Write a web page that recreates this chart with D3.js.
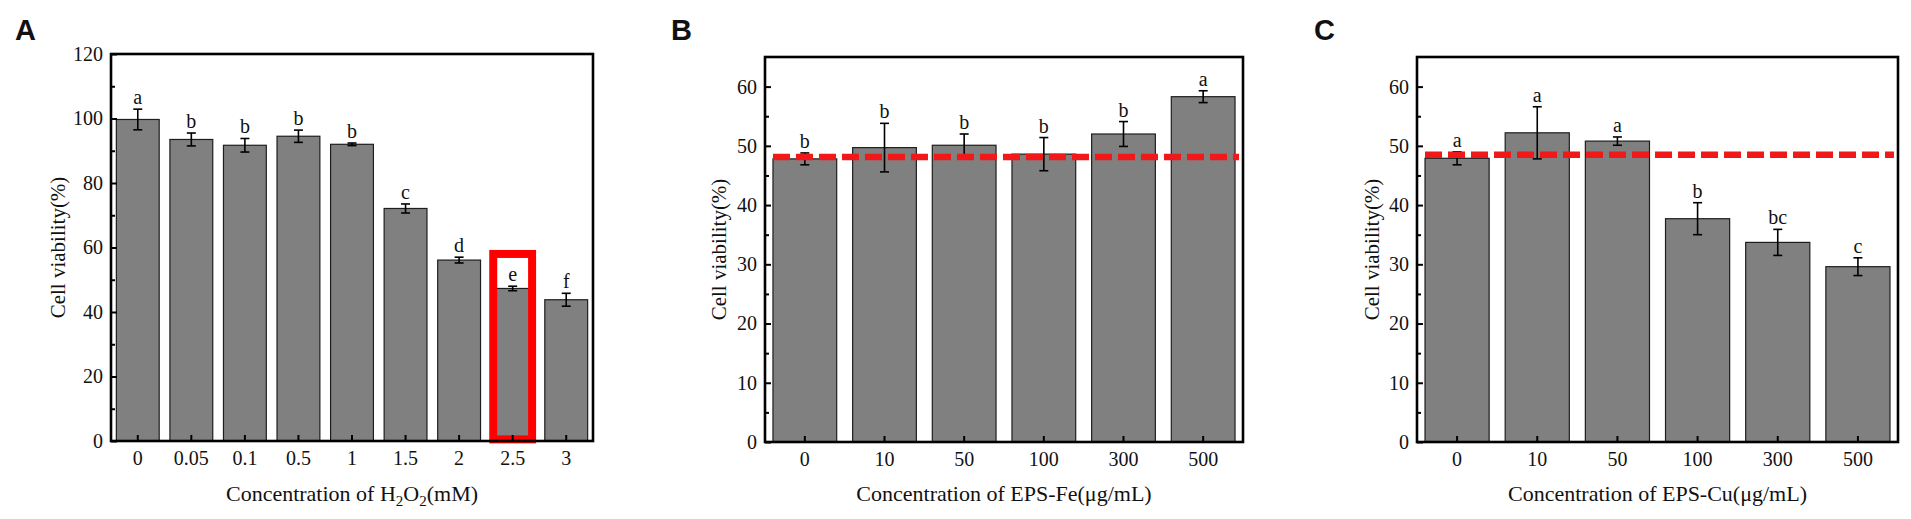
<!DOCTYPE html>
<html>
<head>
<meta charset="utf-8">
<script src="https://cdn.jsdelivr.net/npm/d3@7"></script>
<style>
  body { margin: 0; background: #fff; }
  text { font-family: "Liberation Serif", "Times New Roman", serif; fill: #111; }
  .panel-label { font-family: "Liberation Sans", Arial, sans-serif; font-weight: bold; }
</style>
</head>
<body>
<svg id="fig" width="1911" height="519"></svg>
<script>
// panel A - H2O2
var catsA = ["0", "0.05", "0.1", "0.5", "1", "1.5", "2", "2.5", "3"];
var valsA = [99.7, 93.5, 91.7, 94.5, 92.0, 72.1, 56.1, 47.3, 43.8];
var errA = [3.2, 2.0, 2.1, 1.9, 0.4, 1.4, 0.9, 0.7, 2.0];
var lettersA = ["a", "b", "b", "b", "b", "c", "d", "e", "f"];
var ticksA = [0, 20, 40, 60, 80, 100, 120];
var minorA = [10, 30, 50, 70, 90, 110];
var highlightA = "2.5";   // red box
var highlightTopA = 58;

// panel B - EPS-Fe
var catsB = ["0", "10", "50", "100", "300", "500"];
var valsB = [47.8, 49.7, 50.1, 48.6, 52.0, 58.3];
var errB = [1.0, 4.1, 1.9, 2.8, 2.1, 1.0];
var lettersB = ["b", "b", "b", "b", "b", "a"];
var refB = 48.1;

// panel C - EPS-Cu
var catsC = ["0", "10", "50", "100", "300", "500"];
var valsC = [47.9, 52.2, 50.8, 37.7, 33.7, 29.6];
var errC = [1.1, 4.4, 0.7, 2.7, 2.2, 1.5];
var lettersC = ["a", "a", "a", "b", "bc", "c"];
var refC = 48.5;

var ticksBC = [0, 10, 20, 30, 40, 50, 60];
var minorBC = [5, 15, 25, 35, 45, 55];

var svg = d3.select("#fig");

function drawPanel(opt) {
  var g = svg.append("g");
  var x = d3.scaleBand()
    .domain(opt.cats)
    .range([opt.left, opt.right])
    .paddingInner(0.2)
    .paddingOuter(0.1);
  var y = d3.scaleLinear()
    .domain([0, opt.yMax])
    .range([opt.bottom, opt.top]);

  // bars
  g.selectAll(".bar")
    .data(opt.vals)
    .enter().append("rect")
    .attr("class", "bar")
    .attr("x", (d, i) => x(opt.cats[i]))
    .attr("y", d => y(d))
    .attr("width", x.bandwidth())
    .attr("height", d => y(0) - y(d))
    .attr("fill", "#808080")
    .attr("stroke", "#1e1e1e")
    .attr("stroke-width", 1.2);

  // error bars
  var eb = g.selectAll(".err")
    .data(opt.vals)
    .enter().append("g")
    .attr("class", "err")
    .attr("stroke", "#000")
    .attr("stroke-width", 1.6);
  eb.append("line")
    .attr("x1", (d, i) => x(opt.cats[i]) + x.bandwidth() / 2)
    .attr("x2", (d, i) => x(opt.cats[i]) + x.bandwidth() / 2)
    .attr("y1", (d, i) => y(d + opt.err[i]))
    .attr("y2", (d, i) => y(d - opt.err[i]));
  [1, -1].forEach(function (s) {
    eb.append("line")
      .attr("x1", (d, i) => x(opt.cats[i]) + x.bandwidth() / 2 - 4.5)
      .attr("x2", (d, i) => x(opt.cats[i]) + x.bandwidth() / 2 + 4.5)
      .attr("y1", (d, i) => y(d + s * opt.err[i]))
      .attr("y2", (d, i) => y(d + s * opt.err[i]));
  });

  // significance letters
  g.selectAll(".letter")
    .data(opt.letters)
    .enter().append("text")
    .attr("class", "letter")
    .attr("x", (d, i) => x(opt.cats[i]) + x.bandwidth() / 2)
    .attr("y", (d, i) => y(opt.vals[i] + opt.err[i]) - 5)
    .attr("text-anchor", "middle")
    .attr("font-size", "20px")
    .text(d => d);

  // red dashed reference line
  if (opt.ref !== undefined) {
    g.append("line")
      .attr("x1", x(opt.cats[0]))
      .attr("x2", x(opt.cats[opt.cats.length - 1]) + x.bandwidth() + 4)
      .attr("y1", y(opt.ref))
      .attr("y2", y(opt.ref))
      .attr("stroke", "#f01818")
      .attr("stroke-width", 6.5)
      .attr("stroke-dasharray", "17,6");
  }

  // red box
  if (opt.highlight !== undefined) {
    g.append("rect")
      .attr("x", x(opt.highlight) + 2)
      .attr("y", y(opt.highlightTop))
      .attr("width", x.bandwidth() - 4)
      .attr("height", y(0.5) - y(opt.highlightTop))
      .attr("fill", "none")
      .attr("stroke", "#ff0000")
      .attr("stroke-width", 8);
  }

  // axes
  var yAxis = d3.axisLeft(y).tickValues(opt.ticks).tickSizeInner(-6).tickSizeOuter(0).tickPadding(8);
  var yAxisG = g.append("g")
    .attr("transform", "translate(" + opt.left + ",0)")
    .call(yAxis);
  yAxisG.selectAll("text").attr("font-size", "20px");
  g.append("g")
    .attr("transform", "translate(" + opt.left + ",0)")
    .call(d3.axisLeft(y).tickValues(opt.minor).tickSize(-4).tickFormat(""));

  var xAxis = d3.axisBottom(x).tickSizeInner(-6).tickSizeOuter(0).tickPadding(10);
  var xAxisG = g.append("g")
    .attr("transform", "translate(0," + opt.bottom + ")")
    .call(xAxis);
  xAxisG.selectAll("text").attr("font-size", "20px");

  g.selectAll(".domain").remove();
  g.selectAll(".tick line").attr("stroke", "#000").attr("stroke-width", 2);

  // frame
  g.append("rect")
    .attr("x", opt.left)
    .attr("y", opt.top)
    .attr("width", opt.right - opt.left)
    .attr("height", opt.bottom - opt.top)
    .attr("fill", "none")
    .attr("stroke", "#000")
    .attr("stroke-width", 2.6);

  // y label
  g.append("text")
    .attr("transform", "translate(" + (opt.left - opt.yLabelOffset) + "," + ((opt.top + opt.bottom) / 2) + ") rotate(-90)")
    .attr("text-anchor", "middle")
    .attr("dy", "0.35em")
    .attr("font-size", "21px")
    .text("Cell viability(%)");

  // x label
  var xl = g.append("text")
    .attr("x", (opt.left + opt.right) / 2)
    .attr("y", 501)
    .attr("text-anchor", "middle")
    .attr("font-size", "22px");
  opt.xLabel.forEach(function (p) {
    var t = xl.append("tspan").text(p.t);
    if (p.sub) t.attr("font-size", "15px").attr("dy", "5");
    else if (p.after) t.attr("dy", "-5");
  });

  // panel letter
  svg.append("text")
    .attr("class", "panel-label")
    .attr("x", opt.labelX)
    .attr("y", 40)
    .attr("font-size", "29px")
    .text(opt.label);
}

drawPanel({
  cats: catsA, vals: valsA, err: errA, letters: lettersA,
  ticks: ticksA, minor: minorA, yMax: 120,
  left: 111, right: 593, top: 54, bottom: 441,
  highlight: highlightA, highlightTop: highlightTopA,
  yLabelOffset: 53, label: "A", labelX: 15,
  xLabel: [{ t: "Concentration of H" }, { t: "2", sub: true }, { t: "O", after: true }, { t: "2", sub: true }, { t: "(mM)", after: true }]
});

drawPanel({
  cats: catsB, vals: valsB, err: errB, letters: lettersB,
  ticks: ticksBC, minor: minorBC, yMax: 65,
  left: 765, right: 1243, top: 57, bottom: 442,
  ref: refB,
  yLabelOffset: 46, label: "B", labelX: 671,
  xLabel: [{ t: "Concentration of EPS-Fe(\u03bcg/mL)" }]
});

drawPanel({
  cats: catsC, vals: valsC, err: errC, letters: lettersC,
  ticks: ticksBC, minor: minorBC, yMax: 65,
  left: 1417, right: 1898, top: 57, bottom: 442,
  ref: refC,
  yLabelOffset: 45, label: "C", labelX: 1314,
  xLabel: [{ t: "Concentration of EPS-Cu(\u03bcg/mL)" }]
});
</script>
</body>
</html>
